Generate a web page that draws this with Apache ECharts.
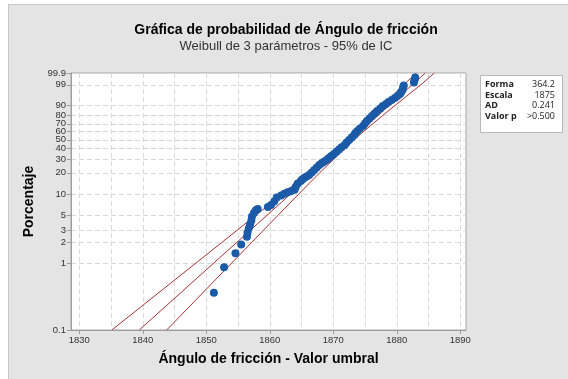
<!DOCTYPE html>
<html><head><meta charset="utf-8">
<script src="https://cdn.jsdelivr.net/npm/echarts@6.0.0/dist/echarts.min.js"></script>
<style>
html,body{margin:0;padding:0;background:#fff;}
#panel{position:absolute;left:8px;top:4px;width:560px;height:375px;background:#e4e4e4;border-left:1px solid #c8c8c8;border-top:1px solid #c8c8c8;box-sizing:border-box;}
#c{position:absolute;left:0;top:0;width:568px;height:379px;}
</style></head>
<body><div id="panel"></div><div id="c"></div>
<script>
// ---- data ----
const angle = [1851.2,1852.8,1854.6,1855.5,1856.4,1856.5,1856.7,1856.9,1857.1,1857.2,1857.5,1857.8,1858.1,1859.7,1860.2,1860.7,1861.1,1861.8,1862.3,1862.8,1863.3,1863.9,1864.1,1864.4,1864.9,
 1865.1,1865.4,1865.8,1866.2,1866.6,1867.0,1867.4,1867.8,1868.2,1868.6,1869.0,1869.3,1869.7,1870.1,1870.5,1870.9,1871.3,1871.8,1872.1,1872.5,
 1872.9,1873.3,1873.5,1873.8,1874.2,1874.7,1875.0,1875.3,1875.7,1876.1,1876.5,1876.9,1877.4,1877.8,1878.3,1878.7,1879.2,1879.7,1880.1,1880.5,
 1880.7,1880.9,1881.0,1881.1,1882.7,1882.8,1882.9];
const pct = [0.36,0.86,1.39,1.88,2.45,2.82,3.25,3.70,4.23,4.84,5.44,5.96,6.22,6.65,7.10,7.98,9.09,9.71,10.26,10.78,11.13,11.69,12.91,14.30,15.48,
 16.23,17.01,17.83,18.68,20.17,21.78,23.48,25.29,26.83,28.03,29.44,31.00,32.80,34.68,36.83,39.17,41.50,43.97,46.87,49.80,
 52.81,55.89,58.39,60.91,64.08,67.23,70.35,73.42,76.40,79.27,82.00,84.57,86.96,89.14,90.73,92.17,93.47,94.62,95.63,96.51,
 97.25,97.87,98.49,98.88,99.31,99.56,99.73];
const fitPct = [0.1, 99.9];
const fitX = [1839.45, 1884.5];
const ciPct = [0.1,0.5,1,2,5,10,20,50,80,90,95,99,99.9];
const ciLower = [1835.13,1844.40,1848.40,1852.41,1857.76,1861.88,1866.15,1872.33,1876.34,1877.97,1879.16,1881.08,1883.10];
const ciUpper = [1843.77,1850.92,1854.02,1857.11,1861.26,1864.48,1867.85,1873.23,1877.80,1879.83,1881.32,1883.78,1885.90];
const yTickPct = [0.1,1,2,3,5,10,20,30,40,50,60,70,80,90,99,99.9];
const xLabels = [1830,1840,1850,1860,1870,1880,1890];
const xGrid = [1830,1835,1840,1845,1850,1855,1860,1865,1870,1875,1880,1885,1890];
const xMin = 1828.7, xMax = 1890.9;
const statNames = ['Forma','Escala','AD','Valor p'];
const statValues = ['364.2','1875','0.241','>0.500'];

// Weibull probability scale
const T = p => Math.log(-Math.log(1 - p/100));
const yTickVals = yTickPct.map(T);
const lab = v => { for (let i=0;i<yTickVals.length;i++) if (Math.abs(yTickVals[i]-v)<1e-6) return String(yTickPct[i]); return ''; };

const AX = '#9c9c9c';
const FF = 'Liberation Sans';
const chart = echarts.init(document.getElementById('c'), null, {renderer:'canvas'});

const graphic = [{type:'rect', shape:{x:480.5,y:75.5,width:82,height:57}, style:{fill:'#fff', stroke:'#b8b8b8', lineWidth:1}, z:10}];
const rowsY = [84.5, 95, 105.5, 116];
statNames.forEach((n,i)=>{
  graphic.push({type:'text', x:485, y:rowsY[i], z:11, style:{text:n, fontFamily:'Open Sans', fontSize:9, fontWeight:'bold', fill:'#222', align:'left', verticalAlign:'middle'}});
  graphic.push({type:'text', x:555, y:rowsY[i], z:11, style:{text:statValues[i], fontFamily:'Open Sans', fontSize:9, fill:'#222', align:'right', verticalAlign:'middle'}});
});

const lineS = (xs, ps) => ({type:'line', xAxisIndex:0, data: xs.map((x,i)=>[x, T(ps[i])]), symbol:'none', silent:true, z:2,
  lineStyle:{color:'#a83236', width:1}, clip:true});

chart.setOption({
  animation:false,
  backgroundColor:'transparent',
  title:[
    {text:'Gráfica de probabilidad de Ángulo de fricción', left:286, top:23, textAlign:'center', padding:0,
     textStyle:{fontFamily:FF, fontSize:14, fontWeight:'bold', color:'#000'}},
    {text:'Weibull de 3 parámetros - 95% de IC', left:286, top:40, textAlign:'center', padding:0,
     textStyle:{fontFamily:FF, fontSize:13, fontWeight:'normal', color:'#333'}}
  ],
  grid:{left:71, top:73, right:102, bottom:49, show:true, backgroundColor:'#fff', borderColor:'#a8a8a8', borderWidth:1},
  xAxis:[
    {type:'value', min:xMin, max:xMax, position:'bottom',
     name:'Ángulo de fricción - Valor umbral', nameLocation:'middle', nameGap:22,
     nameTextStyle:{fontFamily:FF, fontSize:14, fontWeight:'bold', color:'#000'},
     axisLine:{show:true, onZero:false, lineStyle:{color:AX}},
     axisTick:{show:true, customValues:xLabels, length:4, lineStyle:{color:AX}},
     axisLabel:{customValues:xLabels, formatter:v=>String(Math.round(v)), margin:5, fontFamily:FF, fontSize:9.5, color:'#333'},
     splitLine:{show:false}},
    {type:'value', min:xMin, max:xMax, position:'top',
     axisLine:{show:false}, axisTick:{show:false, customValues:xGrid}, axisLabel:{show:false},
     splitLine:{show:true, lineStyle:{color:'#d9d9d9', width:1, type:[5,3]}}}
  ],
  yAxis:{type:'value', min:T(0.1), max:T(99.9),
     name:'Porcentaje', nameLocation:'middle', nameGap:31, nameRotate:90,
     nameTextStyle:{fontFamily:FF, fontSize:14, fontWeight:'bold', color:'#000'},
     axisLine:{show:true, onZero:false, lineStyle:{color:AX}},
     axisTick:{show:true, customValues:yTickVals, length:4, lineStyle:{color:AX}},
     axisLabel:{customValues:yTickVals, formatter:lab, margin:5, fontFamily:FF, fontSize:9.5, color:'#333'},
     splitLine:{show:true, lineStyle:{color:'#d9d9d9', width:1, type:[5,3]}}},
  graphic: graphic,
  series:[
    lineS(fitX, fitPct),
    lineS(ciLower, ciPct),
    lineS(ciUpper, ciPct),
    {type:'scatter', xAxisIndex:0, data: angle.map((x,i)=>[x, T(pct[i])]), symbol:'circle', symbolSize:8, z:3,
     itemStyle:{color:'#1b5aa7', opacity:1}}
  ]
});
</script></body></html>
